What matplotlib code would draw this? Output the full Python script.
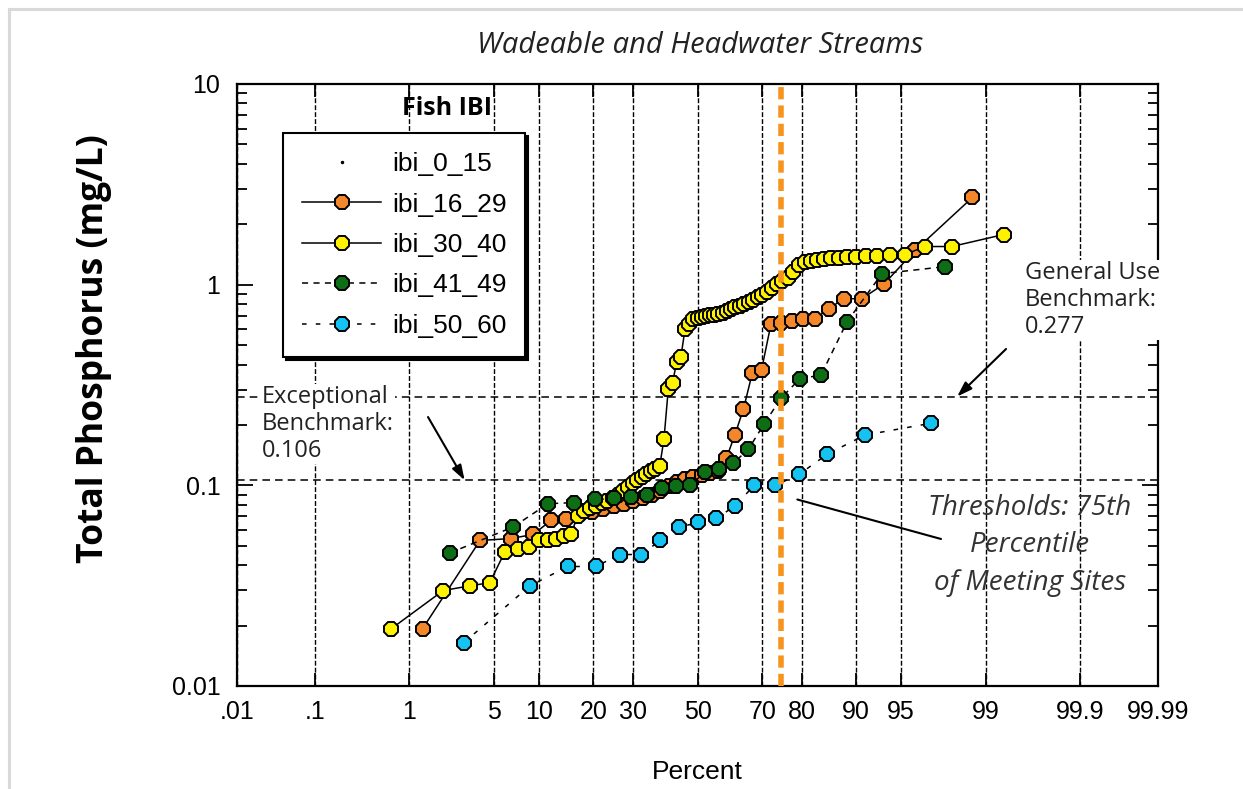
from statistics import NormalDist
import numpy as np
import matplotlib
matplotlib.use('Agg')
import matplotlib.pyplot as plt
from matplotlib.patches import Rectangle
from matplotlib.ticker import FixedLocator, NullLocator, LogLocator, NullFormatter

# --- data (percent, total phosphorus mg/L) ---
ibi_0_15_pct = []
ibi_0_15_tp = []

ibi_16_29_pct = [1.32, 3.95, 6.58, 9.21, 11.84, 14.47, 17.11, 19.74, 22.37, 25.00,
                 27.63, 30.26, 32.89, 35.53, 38.16, 40.79, 43.42, 46.05, 48.68, 51.32,
                 53.95, 56.58, 59.21, 61.84, 64.47, 67.11, 69.74, 72.37, 75.00, 77.63,
                 80.26, 82.89, 85.53, 88.16, 90.79, 93.42, 96.05, 98.68]
ibi_16_29_tp = [0.0193, 0.0531, 0.0543, 0.0569, 0.0668, 0.0676, 0.0716, 0.0733, 0.0759, 0.0785,
                0.0804, 0.0832, 0.0861, 0.0891, 0.0933, 0.0989, 0.1035, 0.107, 0.1096, 0.112,
                0.115, 0.1175, 0.1365, 0.178, 0.240, 0.363, 0.376, 0.638, 0.646, 0.661,
                0.672, 0.676, 0.759, 0.851, 0.851, 1.01, 1.48, 2.72]

ibi_30_40_pct = [0.67, 2.00, 3.33, 4.67, 6.00, 7.33, 8.67, 10.00, 11.33, 12.67,
                 14.00, 15.33, 16.67, 18.00, 19.33, 20.67, 22.00, 23.33, 24.67, 26.00,
                 27.33, 28.67, 30.00, 31.33, 32.67, 34.00, 35.33, 36.67, 38.00, 39.33,
                 40.67, 42.00, 43.33, 44.67, 46.00, 47.33, 48.67, 50.00, 51.33, 52.67,
                 54.00, 55.33, 56.67, 58.00, 59.33, 60.67, 62.00, 63.33, 64.67, 66.00,
                 67.33, 68.67, 70.00, 71.33, 72.67, 74.00, 75.33, 76.67, 78.00, 79.33,
                 80.67, 82.00, 83.33, 84.67, 86.00, 87.33, 88.67, 90.00, 91.33, 92.67,
                 94.00, 95.33, 96.67, 98.00, 99.33]
ibi_30_40_tp = [0.0193, 0.0299, 0.0316, 0.0327, 0.0468, 0.0484, 0.0495, 0.0531, 0.0537, 0.0543,
                0.0556, 0.0575, 0.0700, 0.0741, 0.0767, 0.0785, 0.0813, 0.0832, 0.0861, 0.0891,
                0.0933, 0.0977, 0.1023, 0.1059, 0.1096, 0.1135, 0.1175, 0.1202, 0.1245, 0.170,
                0.302, 0.324, 0.412, 0.437, 0.603, 0.638, 0.676, 0.684, 0.692, 0.700,
                0.708, 0.708, 0.716, 0.724, 0.741, 0.759, 0.776, 0.785, 0.804, 0.822,
                0.841, 0.871, 0.891, 0.923, 0.966, 1.012, 1.047, 1.084, 1.161, 1.259,
                1.303, 1.318, 1.334, 1.349, 1.365, 1.365, 1.380, 1.380, 1.396, 1.396,
                1.413, 1.413, 1.549, 1.549, 1.778]

ibi_41_49_pct = [2.27, 6.82, 11.36, 15.91, 20.45, 25.00, 29.55, 34.09, 38.64, 43.18, 47.73,
                 52.27, 56.82, 61.36, 65.91, 70.45, 75.00, 79.55, 84.09, 88.64, 93.18, 97.73]
ibi_41_49_tp = [0.046, 0.062, 0.081, 0.082, 0.085, 0.086, 0.087, 0.090, 0.097, 0.099, 0.100,
                0.116, 0.120, 0.129, 0.151, 0.202, 0.272, 0.339, 0.355, 0.653, 1.135, 1.23]

ibi_50_60_pct = [2.94, 8.82, 14.71, 20.59, 26.47, 32.35, 38.24, 44.12, 50.00,
                 55.88, 61.76, 67.65, 73.53, 79.41, 85.29, 91.18, 97.06]
ibi_50_60_tp = [0.0164, 0.0316, 0.0394, 0.0394, 0.0452, 0.0452, 0.0531, 0.0617, 0.0653,
                0.0684, 0.0785, 0.100, 0.100, 0.1135, 0.143, 0.178, 0.204]

exceptional_benchmark = 0.106
general_use_benchmark = 0.277
threshold_percentile = 75

x_ticks = [0.01, 0.1, 1, 5, 10, 20, 30, 50, 70, 80, 90, 95, 99, 99.9, 99.99]
x_tick_labels = ['.01', '.1', '1', '5', '10', '20', '30', '50', '70', '80', '90', '95',
                 '99', '99.9', '99.99']
y_ticks = [0.01, 0.1, 1, 10]
y_tick_labels = ['0.01', '0.1', '1', '10']

# --- normal probability scale for the x axis ---
_nd = NormalDist()
_ppf = np.vectorize(_nd.inv_cdf, otypes=[float])
_cdf = np.vectorize(_nd.cdf, otypes=[float])


def pct_to_z(p):
    p = np.clip(np.asarray(p, dtype=float), 1e-9, 100 - 1e-9)
    return _ppf(p / 100.0)


def z_to_pct(z):
    return _cdf(np.asarray(z, dtype=float)) * 100.0


TICK_FONT = 'Liberation Sans'
NOTE_FONT = 'Open Sans'

fig = plt.figure(figsize=(12.43, 7.89), dpi=100)
ax = fig.add_axes([0.19067, 0.13055, 0.74095, 0.76299])

ax.set_xscale('function', functions=(pct_to_z, z_to_pct))
ax.set_yscale('log')
ax.set_xlim(0.01, 99.99)
ax.set_ylim(0.01, 10)

mk = dict(marker='8', ms=11.5, mew=1.4, mec='black')
ax.plot(ibi_0_15_pct, ibi_0_15_tp, ls='none', marker='.', ms=3, color='black', label='ibi_0_15')
ax.plot(ibi_16_29_pct, ibi_16_29_tp, color='black', lw=1.1, mfc='#F5872B', label='ibi_16_29', **mk)
ax.plot(ibi_30_40_pct, ibi_30_40_tp, color='black', lw=1.1, mfc='#FFF200', label='ibi_30_40', **mk)
ax.plot(ibi_41_49_pct, ibi_41_49_tp, color='black', lw=1.1, ls=(0, (4, 3.5)), mfc='#0E6E16',
        label='ibi_41_49', **mk)
ax.plot(ibi_50_60_pct, ibi_50_60_tp, color='black', lw=1.1, ls=(0, (3, 6)), mfc='#14C3F2',
        label='ibi_50_60', **mk)

# benchmark lines and 75th percentile line
ax.axhline(exceptional_benchmark, color='black', lw=1.1, ls=(0, (5, 3.3)), zorder=1.5)
ax.axhline(general_use_benchmark, color='black', lw=1.1, ls=(0, (5, 3.3)), zorder=1.5)
ax.axvline(threshold_percentile, color='#F7941D', lw=4, ls=(0, (2.2, 1.1)), zorder=4)

# axes, ticks, grid
ax.set_axisbelow(True)
ax.xaxis.set_major_locator(FixedLocator(x_ticks))
ax.xaxis.set_minor_locator(NullLocator())
ax.set_xticklabels(x_tick_labels, fontfamily=TICK_FONT, fontsize=18)
ax.yaxis.set_major_locator(FixedLocator(y_ticks))
ax.yaxis.set_minor_locator(LogLocator(base=10, subs=np.arange(2, 10)))
ax.yaxis.set_minor_formatter(NullFormatter())
ax.set_yticklabels(y_tick_labels, fontfamily=TICK_FONT, fontsize=18)
ax.grid(axis='x', which='major', color='black', lw=1.0, ls=(0, (3.5, 1.5)))
ax.tick_params(axis='x', which='major', direction='in', length=9.5, width=1.3,
               top=True, pad=10)
ax.tick_params(axis='y', which='major', direction='in', length=11.5, width=1.3,
               right=True, pad=12)
ax.tick_params(axis='y', which='minor', direction='in', length=7, width=1.3, right=True)
for s in ax.spines.values():
    s.set_linewidth(1.6)

# legend
leg = ax.legend(loc='upper left', bbox_to_anchor=(0.050, 0.918), borderaxespad=0,
                prop={'family': TICK_FONT, 'size': 19}, frameon=True, fancybox=False,
                edgecolor='black', framealpha=1, numpoints=1, handlelength=3.0,
                handletextpad=0.4, labelspacing=0.62, borderpad=0.72,
                shadow={'color': 'black', 'alpha': 1.0})
leg.get_frame().set_linewidth(1.5)
ax.text(0.228, 0.960, 'Fish IBI', transform=ax.transAxes, ha='center', va='center',
        fontfamily=NOTE_FONT, fontweight='bold', fontsize=18)

# annotations
note = dict(fontfamily=NOTE_FONT, fontsize=17, color='#222222')
ax.text(0.0271, 0.435, 'Exceptional\nBenchmark:\n0.106', transform=ax.transAxes,
        ha='left', va='center', linespacing=1.15, zorder=3,
        bbox=dict(facecolor='white', edgecolor='none', pad=1), **note)
ax.annotate('', xy=(3.0, exceptional_benchmark), xycoords='data',
            xytext=(0.2074, 0.4468), textcoords='axes fraction',
            arrowprops=dict(arrowstyle='-|>,head_length=0.9,head_width=0.3',
                            color='black', lw=1.5, shrinkA=0, shrinkB=0))
ax.text(0.8556, 0.6412, 'General Use\nBenchmark:\n0.277', transform=ax.transAxes,
        ha='left', va='center', linespacing=1.15, zorder=3,
        bbox=dict(facecolor='white', edgecolor='none', pad=1), **note)
ax.annotate('', xy=(98.2, general_use_benchmark), xycoords='data',
            xytext=(0.835, 0.5598), textcoords='axes fraction',
            arrowprops=dict(arrowstyle='-|>,head_length=0.9,head_width=0.3',
                            color='black', lw=1.5, shrinkA=0, shrinkB=0))
ax.text(0.861, 0.234, 'Thresholds: 75th\nPercentile\nof Meeting Sites', transform=ax.transAxes,
        ha='center', va='center', linespacing=1.45, fontstyle='italic',
        fontfamily=NOTE_FONT, fontsize=20, color='#333333', zorder=3)
ax.annotate('', xy=(79.0, 0.085), xycoords='data',
            xytext=(0.7644, 0.2442), textcoords='axes fraction',
            arrowprops=dict(arrowstyle='-', color='black', lw=1.5, shrinkA=0, shrinkB=0))

# titles and axis labels
fig.text(0.563, 0.942, 'Wadeable and Headwater Streams', ha='center', va='center',
         fontfamily=NOTE_FONT, fontstyle='italic', fontsize=21, color='#222222')
fig.text(0.5607, 0.0215, 'Percent', ha='center', va='center',
         fontfamily=TICK_FONT, fontsize=19)
fig.text(94 / 1243, 1 - 349 / 789, 'Total Phosphorus (mg/L)', rotation=90, ha='center',
         va='center', fontfamily=NOTE_FONT, fontweight='bold', fontsize=25.5)

# light frame of the original screenshot
fig.patches.append(Rectangle((9 / 1243, -0.05), 1.1, 1.05 - 9 / 789,
                             transform=fig.transFigure, fill=False,
                             edgecolor='#d9d9d9', lw=2.2))

fig.savefig('out.png', dpi=100)
